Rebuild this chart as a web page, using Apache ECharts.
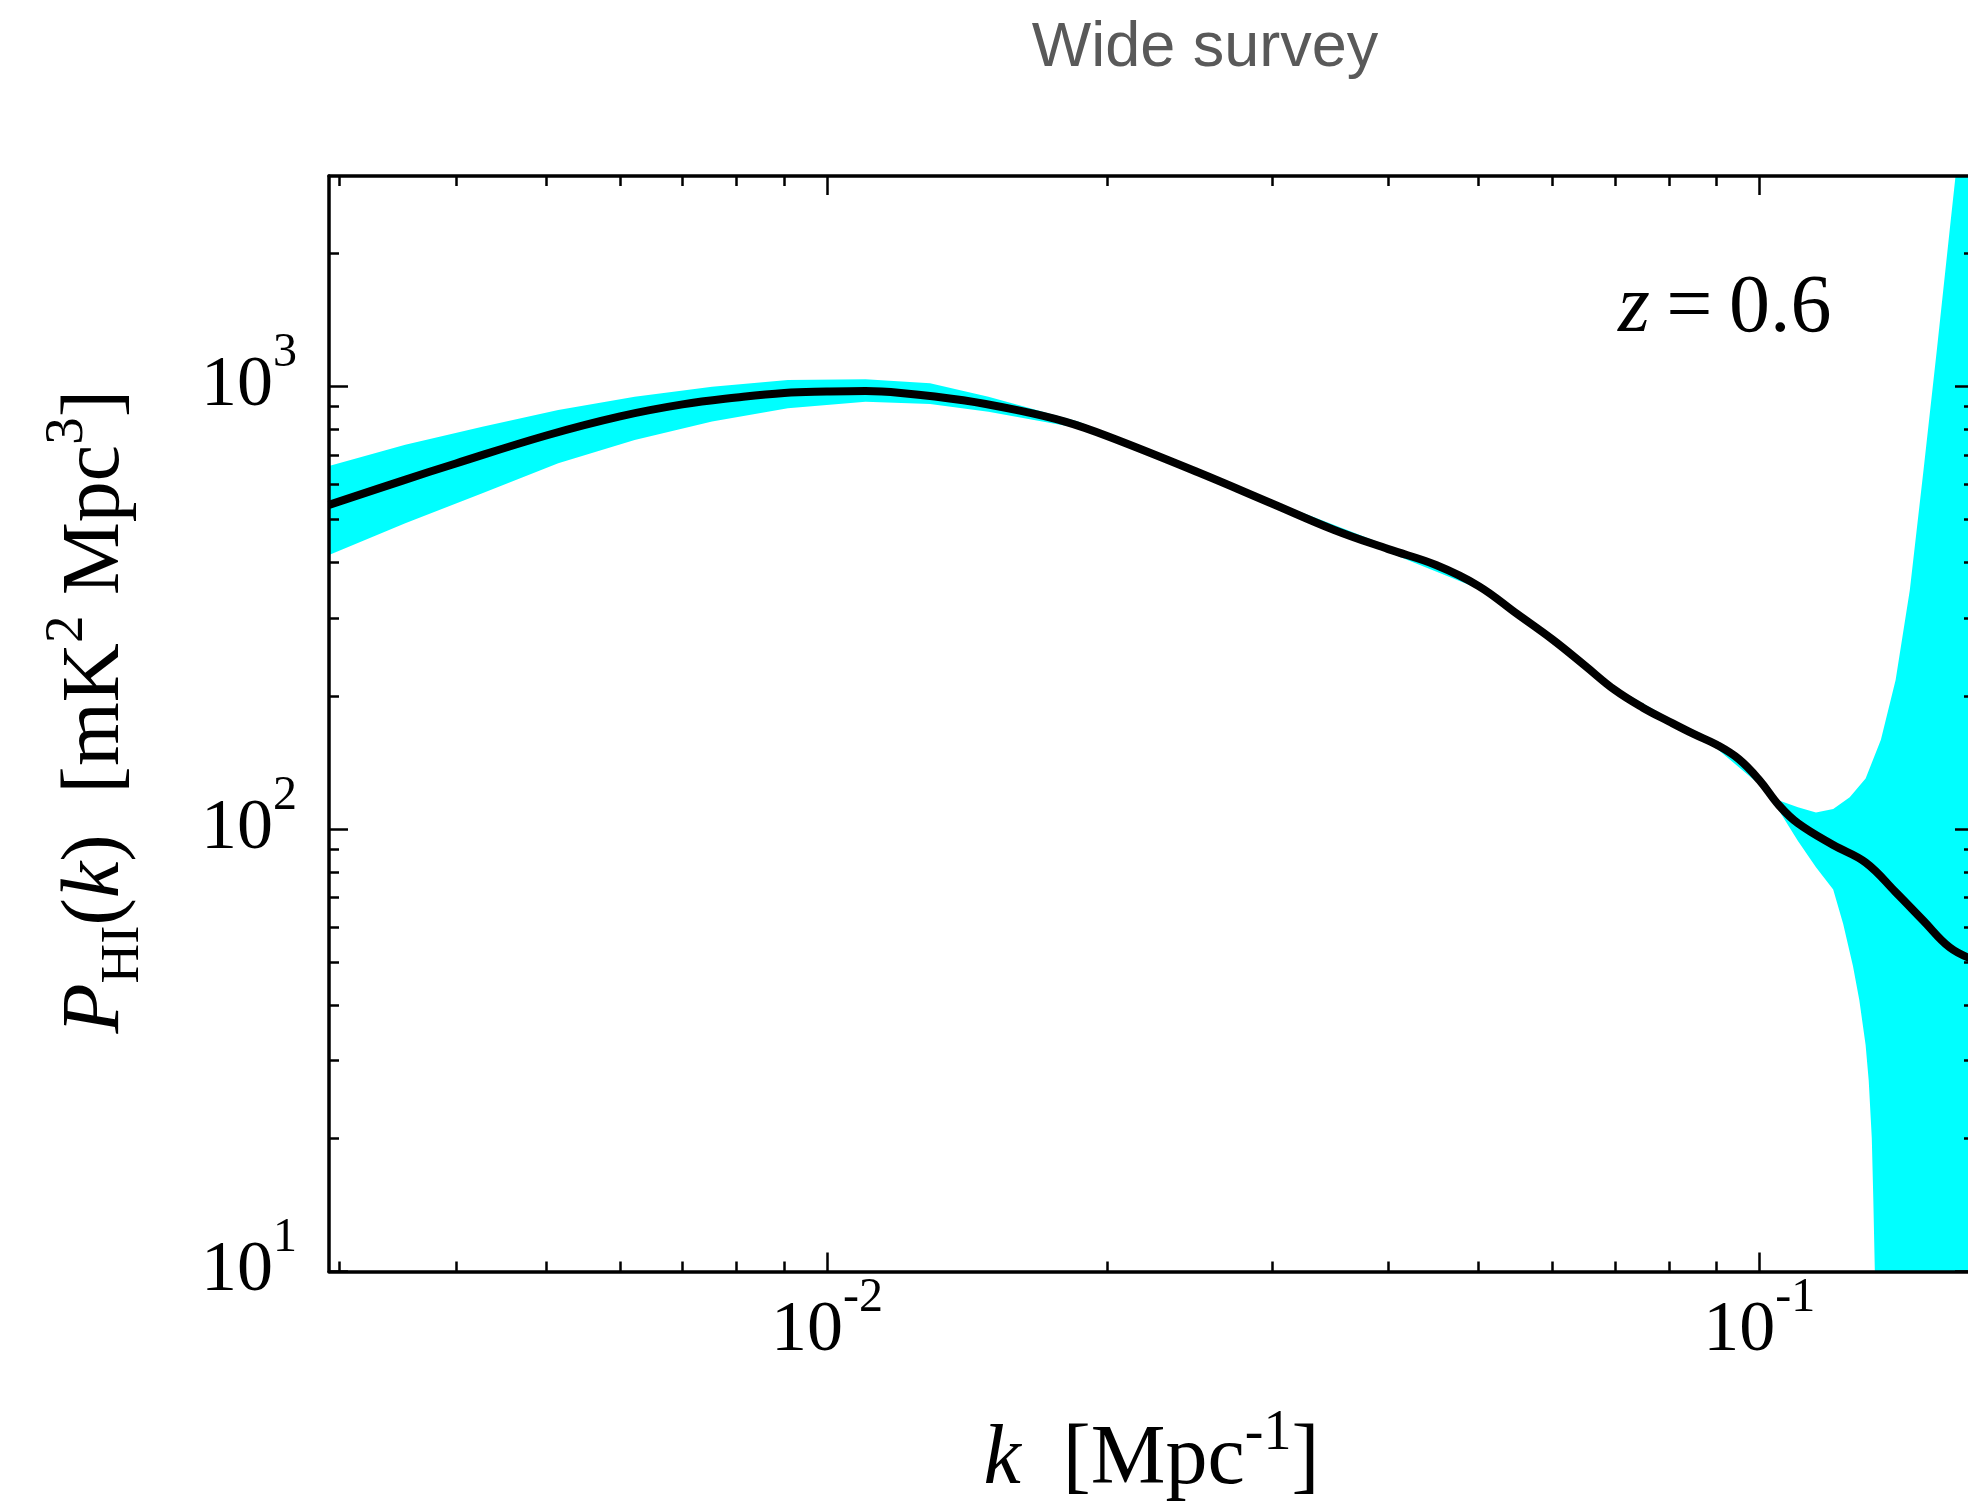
<!DOCTYPE html>
<html>
<head>
<meta charset="utf-8">
<script src="https://cdn.jsdelivr.net/npm/echarts@6/dist/echarts.min.js"></script>
<style>
html,body{margin:0;padding:0;background:#ffffff;}
#chart{width:1968px;height:1510px;}
</style>
</head>
<body>
<div id="chart"></div>
<script>
// ---------------- data ----------------
const titleText = 'Wide survey';
const xRange = [0.002924, 0.1699];
const yRange = [10, 2990];

// fiducial HI power spectrum (black curve)
const kLine = [0.002924, 0.0035, 0.004, 0.005, 0.006, 0.007, 0.008, 0.009, 0.01, 0.011, 0.012, 0.014, 0.016, 0.018, 0.02, 0.025, 0.03, 0.035, 0.04, 0.045, 0.05, 0.055, 0.06, 0.065, 0.07, 0.075, 0.08, 0.085, 0.09, 0.095, 0.1, 0.105, 0.11, 0.12, 0.13, 0.14, 0.15, 0.16, 0.1699];
const pLine = [540, 612, 670, 775, 856, 911, 944, 967, 974, 977, 967, 931, 884, 833, 772, 640, 544, 474, 429, 395, 354, 306, 268, 234, 206, 188, 175, 164, 155, 144, 129, 113, 103, 92, 84, 72, 62, 54, 50.6];

// error band (cyan): upper edge
const upperK = [0.002924, 0.00353, 0.00427, 0.00515, 0.00622, 0.00753, 0.00908, 0.011, 0.0129, 0.0149, 0.0186, 0.025, 0.03, 0.04, 0.05, 0.06, 0.07, 0.08, 0.09, 0.1, 0.105, 0.11, 0.115, 0.12, 0.125, 0.13, 0.135, 0.14, 0.145, 0.15, 0.155, 0.16, 0.165, 0.1699];
const upperP = [661, 738, 811, 885, 948, 999, 1035, 1038, 1017, 948, 833, 650, 552, 436, 359, 272, 209, 178, 158, 131, 116, 112, 109, 111, 118, 130, 159, 217, 347, 648, 1209, 2258, 4108, 7000];

// error band (cyan): lower edge
const lowerK = [0.002924, 0.00353, 0.00427, 0.00515, 0.00622, 0.00753, 0.00908, 0.011, 0.0129, 0.0149, 0.0186, 0.025, 0.03, 0.04, 0.05, 0.06, 0.07, 0.08, 0.09, 0.1, 0.105, 0.11, 0.115, 0.12, 0.123, 0.126, 0.128, 0.13, 0.131, 0.132, 0.1325, 0.133, 0.134, 0.1699];
const lowerP = [416, 491, 574, 671, 757, 833, 893, 924, 913, 877, 806, 630, 536, 422, 349, 264, 203, 172, 152, 126, 110, 94, 82, 73, 61, 49, 41, 32.5, 27, 20, 14.5, 10, 5, 2];

// tick values
const xMajorTicks = [0.01, 0.1];
const xMinorTicks = [0.003, 0.004, 0.005, 0.006, 0.007, 0.008, 0.009, 0.02, 0.03, 0.04, 0.05, 0.06, 0.07, 0.08, 0.09];
const yMajorTicks = [10, 100, 1000];
const yMinorTicks = [20, 30, 40, 50, 60, 70, 80, 90, 200, 300, 400, 500, 600, 700, 800, 900, 2000];

// ---------------- styling ----------------
const SERIF = '"Liberation Serif", "DejaVu Serif", serif';
const SANS = '"Liberation Sans", Arial, sans-serif';
const lineCol = '#000000';
const bandCol = '#00FFFF';

const tickRich = {
  b: {fontFamily: SERIF, fontSize: 72, lineHeight: 72, color: '#000'},
  s: {fontFamily: SERIF, fontSize: 48, lineHeight: 48, color: '#000', padding: [0, 0, 66, 0]}
};
function powLabel(v) {
  const e = Math.round(Math.log10(v));
  return '{b|10}{s|' + (e < 0 ? '-' : '') + Math.abs(e) + '}';
}

function axisBase(range, pos, ticks, len, showLine) {
  return {
    type: 'log', logBase: 10, min: range[0], max: range[1], position: pos,
    z: 10, splitLine: {show: false}, minorTick: {show: false},
    axisLine: {show: showLine, onZero: false, lineStyle: {color: '#000', width: 3.5}},
    axisTick: {show: true, inside: true, length: len, customValues: ticks,
               lineStyle: {color: '#000', width: 2.5}},
    axisLabel: {show: false},
    axisPointer: {show: false}
  };
}

const xAxes = [
  Object.assign(axisBase(xRange, 'bottom', xMajorTicks, 19, true), {
    axisLabel: {show: true, customValues: xMajorTicks, formatter: powLabel, rich: tickRich, margin: 24},
    name: '{i|k}{n|  [Mpc}{s|-1}{n|]}',
    nameLocation: 'middle', nameGap: 147,
    nameTextStyle: {
      rich: {
        i: {fontFamily: SERIF, fontStyle: 'italic', fontSize: 84, lineHeight: 84, color: '#000'},
        n: {fontFamily: SERIF, fontSize: 84, lineHeight: 84, color: '#000'},
        s: {fontFamily: SERIF, fontSize: 56, lineHeight: 56, color: '#000', padding: [0, 0, 52, 0]}
      }
    }
  }),
  axisBase(xRange, 'bottom', xMinorTicks, 10, false),
  axisBase(xRange, 'top', xMajorTicks, 19, true),
  axisBase(xRange, 'top', xMinorTicks, 10, false)
];

const yAxes = [
  Object.assign(axisBase(yRange, 'left', yMajorTicks, 19, true), {
    axisLabel: {show: true, customValues: yMajorTicks, formatter: powLabel, rich: tickRich, margin: 32},
    name: '{i|P}{sub|HI}{n|(}{i|k}{n|)  [mK}{sup|2}{n| Mpc}{sup|3}{n|]}',
    nameLocation: 'middle', nameRotate: 90, nameGap: 192,
    nameTextStyle: {
      padding: [0, 0, 0, 24],
      rich: {
        i: {fontFamily: SERIF, fontStyle: 'italic', fontSize: 82, lineHeight: 82, color: '#000'},
        n: {fontFamily: SERIF, fontSize: 82, lineHeight: 82, color: '#000'},
        sup: {fontFamily: SERIF, fontSize: 55, lineHeight: 55, color: '#000', padding: [0, 0, 56, 0]},
        sub: {fontFamily: SERIF, fontSize: 55, lineHeight: 55, color: '#000', padding: [55, 0, 0, 0]}
      }
    }
  }),
  axisBase(yRange, 'left', yMinorTicks, 10, false),
  axisBase(yRange, 'right', yMajorTicks, 19, true),
  axisBase(yRange, 'right', yMinorTicks, 10, false)
];

const chart = echarts.init(document.getElementById('chart'), null, {renderer: 'canvas'});
chart.setOption({
  animation: false,
  backgroundColor: '#ffffff',
  title: {
    text: titleText, left: 1205, top: 17, textAlign: 'center', padding: 0,
    textStyle: {fontFamily: SANS, fontSize: 63, lineHeight: 63, fontWeight: 'normal', color: '#595959'}
  },
  grid: {left: 329, top: 176, width: 1645, height: 1095.5, containLabel: false, outerBoundsMode: 'none'},
  xAxis: xAxes,
  yAxis: yAxes,
  graphic: [{
    type: 'text', x: 1618, y: 309.5, z: 20,
    style: {
      text: '{i|z}{n|\u2009=\u20090.6}', verticalAlign: 'middle', align: 'left',
      rich: {
        i: {fontFamily: SERIF, fontStyle: 'italic', fontSize: 82, lineHeight: 82, fill: '#000'},
        n: {fontFamily: SERIF, fontSize: 82, lineHeight: 82, fill: '#000'}
      }
    }
  }],
  series: [
    {
      type: 'custom', name: 'band', xAxisIndex: 0, yAxisIndex: 0, z: 1, silent: true,
      data: [[0.01, 100]],
      renderItem: function (params, api) {
        const pts = [];
        for (let i = 0; i < upperK.length; i++) pts.push(api.coord([upperK[i], upperP[i]]));
        for (let i = lowerK.length - 1; i >= 0; i--) pts.push(api.coord([lowerK[i], lowerP[i]]));
        const cs = params.coordSys;
        return {
          type: 'polygon', shape: {points: pts}, style: {fill: bandCol, stroke: null},
          clipPath: {type: 'rect', shape: {x: cs.x, y: cs.y, width: cs.width, height: cs.height}}
        };
      }
    },
    {
      type: 'line', name: 'P_HI', xAxisIndex: 0, yAxisIndex: 0, z: 3, silent: true,
      data: kLine.map((k, i) => [k, pLine[i]]),
      showSymbol: false, symbol: 'none', smooth: 0.4,
      lineStyle: {color: lineCol, width: 8}
    }
  ]
});
</script>
</body>
</html>
